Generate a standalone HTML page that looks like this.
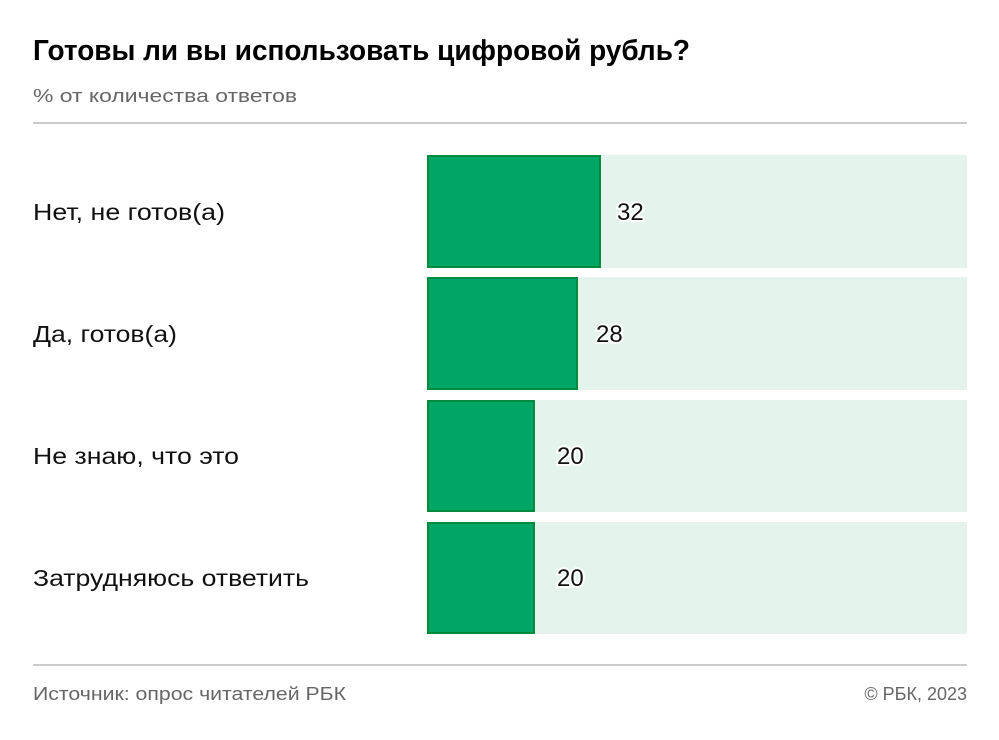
<!DOCTYPE html>
<html><head><meta charset="utf-8"><style>
html,body{margin:0;padding:0;background:#fff;}
svg{display:block;font-family:"Liberation Sans","DejaVu Sans",sans-serif;}
.v{font-size:24px;fill:#111;stroke:#fff;stroke-width:4px;paint-order:stroke;}
.l{font-size:23px;fill:#111;}
</style></head><body>
<svg width="999" height="740" viewBox="0 0 999 740">
<text x="33" y="60" font-size="29" font-weight="bold" fill="#000" textLength="657" lengthAdjust="spacingAndGlyphs">Готовы ли вы использовать цифровой рубль?</text>
<text x="33" y="102" font-size="18" fill="#666" textLength="264" lengthAdjust="spacingAndGlyphs">% от количества ответов</text>
<rect x="33" y="122" width="934" height="2" fill="#ccc"/>
<g>
<rect x="427" y="155" width="540" height="113" fill="#e4f4ec"/>
<rect x="428" y="156" width="172" height="111" fill="#00a666" stroke="#008a3e" stroke-width="2"/>
<text class="l" x="33" y="220" textLength="192" lengthAdjust="spacingAndGlyphs">Нет, не готов(а)</text>
<text class="v" x="617" y="220">32</text>

<rect x="427" y="277" width="540" height="113" fill="#e4f4ec"/>
<rect x="428" y="278" width="149" height="111" fill="#00a666" stroke="#008a3e" stroke-width="2"/>
<text class="l" x="33" y="342" textLength="144" lengthAdjust="spacingAndGlyphs">Да, готов(а)</text>
<text class="v" x="596" y="342">28</text>

<rect x="427" y="400" width="540" height="112" fill="#e4f4ec"/>
<rect x="428" y="401" width="106" height="110" fill="#00a666" stroke="#008a3e" stroke-width="2"/>
<text class="l" x="33" y="464" textLength="206" lengthAdjust="spacingAndGlyphs">Не знаю, что это</text>
<text class="v" x="557" y="464">20</text>

<rect x="427" y="522" width="540" height="112" fill="#e4f4ec"/>
<rect x="428" y="523" width="106" height="110" fill="#00a666" stroke="#008a3e" stroke-width="2"/>
<text class="l" x="33" y="586" textLength="276" lengthAdjust="spacingAndGlyphs">Затрудняюсь ответить</text>
<text class="v" x="557" y="586">20</text>
</g>
<rect x="33" y="664" width="934" height="2" fill="#ccc"/>
<text x="33" y="700" font-size="18" fill="#666" textLength="313" lengthAdjust="spacingAndGlyphs">Источник: опрос читателей РБК</text>
<text x="967" y="700" font-size="18" fill="#666" text-anchor="end">© РБК, 2023</text>
</svg>
</body></html>
